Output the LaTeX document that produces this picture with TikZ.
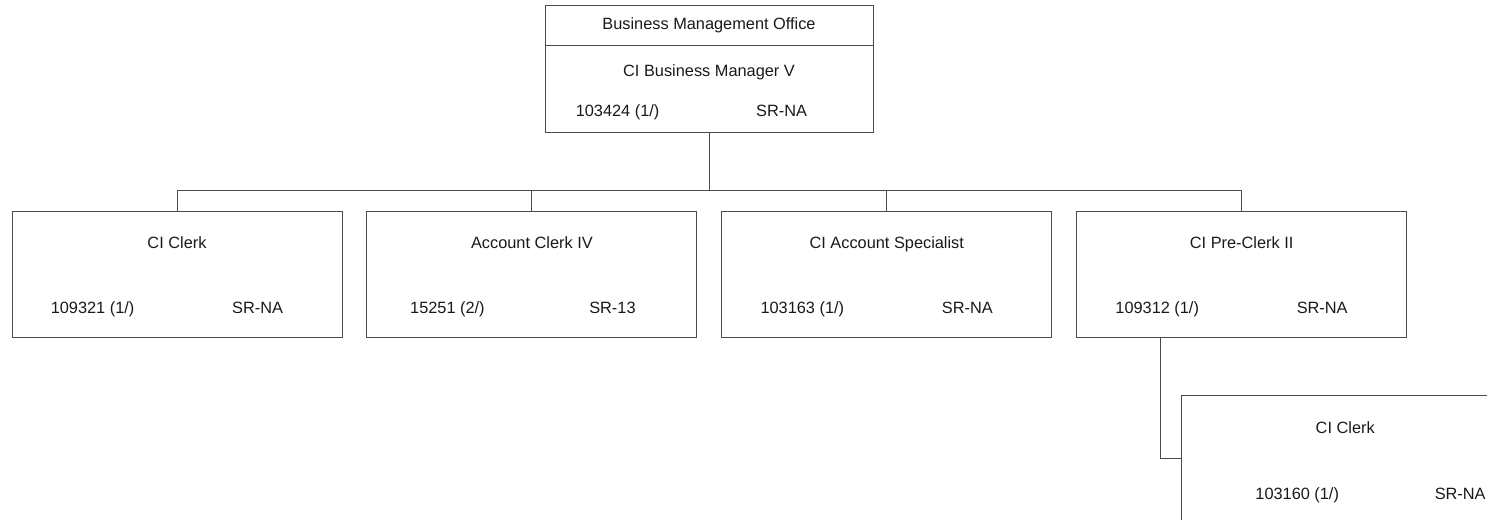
\documentclass[tikz,border=0pt]{standalone}
\usepackage{fontspec}
\setmainfont{Liberation Sans}
\usepackage{tikz}
\usetikzlibrary{positioning}

\begin{document}
\begin{tikzpicture}[
    line width=0.5pt,
    node distance=0.48cm,
    posbox/.style={
        draw=black!70,
        minimum width=6.6cm,
        minimum height=2.52cm,
        inner sep=0pt
    },
    topbox/.style={posbox, minimum width=6.56cm},
    posfont/.style={font=\fontsize{9.3}{11}\selectfont, inner sep=0pt, text height=1.6ex, text depth=0.4ex, text=black!90},
    postitle/.style={posfont},
    posid/.style={posfont},
    grade/.style={posfont},
    link/.style={draw=black!70, line width=0.5pt}
]

    \useasboundingbox (0,0) rectangle (29.74,-10.38);

    % TOP OFFICE
    \node[topbox, minimum height=0.8cm, font=\fontsize{9.3}{11}\selectfont, text=black!90] (office) at (14.18,-0.5) {Business Management Office};
    \node[topbox, minimum height=1.74cm, below=0pt of office] (mgr) {};
    \node[postitle] (t_mgr) at (mgr.north) [yshift=-0.5cm] {CI Business Manager V};
    \node[posid] (i_mgr) at (mgr.north west) [xshift=1.46cm, yshift=-1.3cm] {103424 (1/)};
    \node[grade] (g_mgr) at (mgr.north west) [xshift=4.74cm, yshift=-1.3cm] {SR-NA};

    % SECOND ROW
    \node[posbox] (clerk) at (3.54,-5.48) {};
    \node[postitle] (t_clerk) at (clerk.north) [yshift=-0.64cm] {CI Clerk};
    \node[posid] (i_clerk) at (clerk.north west) [xshift=1.62cm, yshift=-1.94cm] {109321 (1/)};
    \node[grade] (g_clerk) at (clerk.north west) [xshift=4.92cm, yshift=-1.94cm] {SR-NA};

    \node[posbox, right=of clerk] (acctclerk) {};
    \node[postitle] (t_acctclerk) at (acctclerk.north) [yshift=-0.64cm] {Account Clerk IV};
    \node[posid] (i_acctclerk) at (acctclerk.north west) [xshift=1.62cm, yshift=-1.94cm] {15251 (2/)};
    \node[grade] (g_acctclerk) at (acctclerk.north west) [xshift=4.92cm, yshift=-1.94cm] {SR-13};

    \node[posbox, right=of acctclerk] (acctspec) {};
    \node[postitle] (t_acctspec) at (acctspec.north) [yshift=-0.64cm] {CI Account Specialist};
    \node[posid] (i_acctspec) at (acctspec.north west) [xshift=1.62cm, yshift=-1.94cm] {103163 (1/)};
    \node[grade] (g_acctspec) at (acctspec.north west) [xshift=4.92cm, yshift=-1.94cm] {SR-NA};

    \node[posbox, right=of acctspec] (preclerk) {};
    \node[postitle] (t_preclerk) at (preclerk.north) [yshift=-0.64cm] {CI Pre-Clerk II};
    \node[posid] (i_preclerk) at (preclerk.north west) [xshift=1.62cm, yshift=-1.94cm] {109312 (1/)};
    \node[grade] (g_preclerk) at (preclerk.north west) [xshift=4.92cm, yshift=-1.94cm] {SR-NA};

    % THIRD ROW
    \node[posbox, below right=1.16cm and 2.1cm of preclerk.south west, anchor=north west] (subclerk) {};
    \node[postitle] (t_subclerk) at (subclerk.north west) [xshift=3.28cm, yshift=-0.64cm] {CI Clerk};
    \node[posid] (i_subclerk) at (subclerk.north west) [xshift=2.32cm, yshift=-1.96cm] {103160 (1/)};
    \node[grade] (g_subclerk) at (subclerk.north west) [xshift=5.58cm, yshift=-1.96cm] {SR-NA};

    % CONNECTORS
    \coordinate[below=1.14cm of mgr.south] (bus);
    \draw[link] (mgr.south) -- (bus);
    \draw[link] (clerk.north) |- (bus) -| (preclerk.north);
    \draw[link] (acctclerk.north) |- (bus);
    \draw[link] (acctspec.north) |- (bus);
    \draw[link] ([xshift=1.68cm]preclerk.south west) |- (subclerk.west);

\end{tikzpicture}
\end{document}
